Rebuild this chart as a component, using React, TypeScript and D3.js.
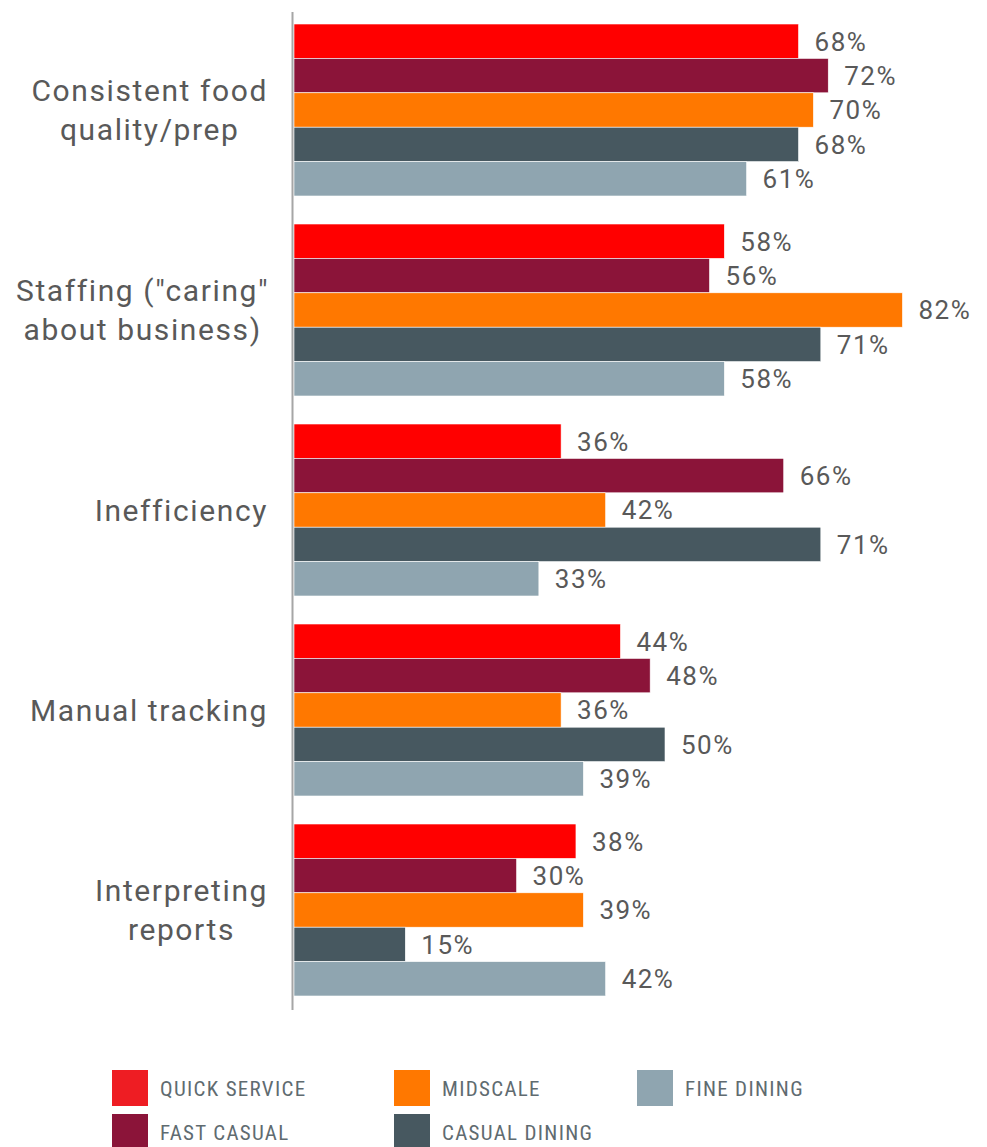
import * as d3 from 'd3'

const categories = [
  ['Consistent food', 'quality/prep'],
  ['Staffing ("caring"', 'about business)'],
  ['Inefficiency'],
  ['Manual tracking'],
  ['Interpreting', 'reports'],
]

const seriesNames = ['QUICK SERVICE', 'FAST CASUAL', 'MIDSCALE', 'CASUAL DINING', 'FINE DINING']
const barColors = ['#ff0000', '#8b1439', '#ff7800', '#475860', '#8fa5b0']
const legendColors = ['#ee1d23', '#8b1439', '#ff7800', '#475860', '#8fa5b0']

const quickService = [68, 58, 36, 44, 38]
const fastCasual = [72, 56, 66, 48, 30]
const midscale = [70, 82, 42, 36, 39]
const casualDining = [68, 71, 71, 50, 15]
const fineDining = [61, 58, 33, 39, 42]

const series = [quickService, fastCasual, midscale, casualDining, fineDining]

const width = 987
const height = 1147

// measure text so multi-line labels can be centred inside a right-aligned block
function measure(text: string, font: string, spacing: number) {
  const ctx = document.createElement('canvas').getContext('2d')!
  ctx.font = font
  return ctx.measureText(text).width + spacing * text.length
}

export default function App() {
  const x = d3.scaleLinear().domain([0, 100]).range([294, 1036])
  const y0 = d3
    .scaleBand<number>()
    .domain(d3.range(categories.length))
    .range([10, 1010])
    .paddingInner(0.14)
    .paddingOuter(0.07)
  const y1 = d3.scaleBand<number>().domain(d3.range(series.length)).range([0, y0.bandwidth()])

  const legendCol = d3.scaleOrdinal<number, number>().domain([0, 1, 2]).range([112, 394, 637])
  const legendRow = d3.scaleOrdinal<number, number>().domain([0, 1]).range([1070, 1114])

  const labelFont = '30px Roboto'
  const labelSpacing = 1.6
  const labelRight = 268
  const lineH = 39

  return (
    <svg
      width={width}
      height={height}
      style={{ position: 'absolute', left: 0, top: 0, background: '#fff' }}
    >
      {categories.map((lines, ci) => {
        const gy = y0(ci)!
        const cy = gy + y0.bandwidth() / 2
        const blockW = d3.max(lines, (l) => measure(l, labelFont, labelSpacing))!
        const centerX = labelRight - blockW / 2
        return (
          <g key={ci}>
            {series.map((vals, si) => (
              <g key={si}>
                <rect
                  x={x(0)}
                  y={gy + y1(si)!}
                  width={x(vals[ci]) - x(0)}
                  height={y1.bandwidth()}
                  fill={barColors[si]}
                  stroke="#fff"
                  strokeWidth={0.6}
                />
                <text
                  x={x(vals[ci]) + 16}
                  y={gy + y1(si)! + y1.bandwidth() / 2}
                  dy="0.36em"
                  fontFamily="Roboto, sans-serif"
                  fontSize={26}
                  letterSpacing={1.5}
                  fill="#595959"
                >
                  {vals[ci]}%
                </text>
              </g>
            ))}
            {lines.map((l, li) => (
              <text
                key={li}
                x={lines.length > 1 ? centerX : labelRight}
                y={cy - ((lines.length - 1) * lineH) / 2 + li * lineH}
                dy="0.36em"
                textAnchor={lines.length > 1 ? 'middle' : 'end'}
                fontFamily="Roboto, sans-serif"
                fontSize={30}
                letterSpacing={labelSpacing}
                fill="#595959"
              >
                {l}
              </text>
            ))}
          </g>
        )
      })}

      <line x1={292.5} x2={292.5} y1={12} y2={1010} stroke="#a6a6a6" strokeWidth={2} />

      {seriesNames.map((name, i) => {
        const col = Math.floor(i / 2)
        const row = i % 2
        const lx = legendCol(col)
        const ly = legendRow(row)
        return (
          <g key={name}>
            <rect x={lx} y={ly} width={36} height={36} fill={legendColors[i]} />
            <text
              x={lx + 48}
              y={ly + 18}
              dy="0.36em"
              fontFamily="'Liberation Sans Narrow', 'Roboto Condensed', sans-serif"
              fontSize={21}
              letterSpacing={1.3}
              fill="#5f6b70"
            >
              {name}
            </text>
          </g>
        )
      })}
    </svg>
  )
}
